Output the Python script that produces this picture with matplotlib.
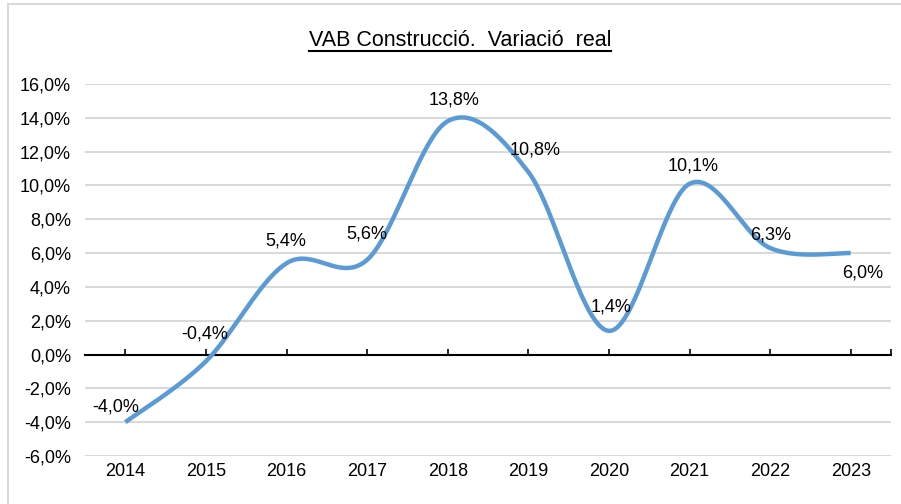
import numpy as np
import matplotlib
matplotlib.use("Agg")
from matplotlib import pyplot as plt
from matplotlib.lines import Line2D
from matplotlib.patches import Rectangle
from matplotlib.ticker import FuncFormatter

plt.rcParams['font.family'] = ['Liberation Sans', 'DejaVu Sans']

years = ['2014', '2015', '2016', '2017', '2018', '2019', '2020', '2021', '2022', '2023']
values = [-4.0, -0.4, 5.4, 5.6, 13.8, 10.8, 1.4, 10.1, 6.3, 6.0]
title = "VAB Construcció.  Variació  real"

# label offsets in pixels (dx, dy), as placed in the original
label_offsets = [(-10, 15), (-1, 27), (-1, 22), (0, 26), (6, 21),
                 (7, 22), (2, 24), (4, 18), (1, 13), (12, -20)]

line_color = '#5b9bd5'
grid_color = '#d9d9d9'


def smooth_curve(x, y, n=40):
    # Bezier smoothing like a spreadsheet "smoothed line"
    pts = np.column_stack([x, y]).astype(float)
    t = np.linspace(0, 1, n)[:, None]
    segs = []
    for i in range(len(pts) - 1):
        p0 = pts[i - 1] if i > 0 else pts[i]
        p1, p2 = pts[i], pts[i + 1]
        p3 = pts[i + 2] if i + 2 < len(pts) else pts[i + 1]
        c1 = p1 + (p2 - p0) / 6
        c2 = p2 - (p3 - p1) / 6
        seg = (1 - t)**3 * p1 + 3 * (1 - t)**2 * t * c1 + 3 * (1 - t) * t**2 * c2 + t**3 * p2
        segs.append(seg if i == 0 else seg[1:])
    curve = np.vstack(segs)
    return curve[:, 0], curve[:, 1]


fig = plt.figure(figsize=(9.01, 5.04), dpi=100)
ax = fig.add_axes([85 / 901, 48 / 504, 806 / 901, 372 / 504])

xs = np.arange(len(values))
cx, cy = smooth_curve(xs, values)
ax.plot(cx, cy, color=line_color, lw=3.2, solid_capstyle='butt', zorder=3)

for i, v in enumerate(values):
    txt = f"{v:.1f}".replace('.', ',') + '%'
    ax.annotate(txt, (i, v), xytext=label_offsets[i], textcoords='offset pixels',
                ha='center', va='center', fontsize=13, color='black', zorder=4)

ax.set_xlim(-0.5, len(values) - 0.5)
ax.set_ylim(-6, 16)
ax.set_yticks(np.arange(-6, 17, 2))
ax.yaxis.set_major_formatter(FuncFormatter(lambda v, p: f"{v:.1f}".replace('.', ',') + '%'))
ax.tick_params(axis='y', length=0, pad=10, labelsize=13)
ax.grid(axis='y', color=grid_color, lw=1.5)
ax.set_axisbelow(True)

for s in ['left', 'right', 'top']:
    ax.spines[s].set_visible(False)
ax.spines['bottom'].set_position(('data', 0))
ax.spines['bottom'].set_color('black')
ax.spines['bottom'].set_linewidth(1.5)
ax.spines['bottom'].set_zorder(2)
ax.set_xticks(list(xs) + [len(values) - 0.5])
ax.tick_params(axis='x', direction='in', length=4, width=1.2, labelbottom=False)

sec = ax.secondary_xaxis('bottom')
sec.set_xticks(xs)
sec.set_xticklabels(years)
sec.tick_params(axis='x', length=0, pad=5, labelsize=13)
sec.spines['bottom'].set_visible(False)

t = fig.text(460 / 901, 1 - 46 / 504, title, ha='center', va='baseline', fontsize=15.5)
fig.canvas.draw()
bb = t.get_window_extent()
fig.add_artist(Line2D([bb.x0 / 901, bb.x1 / 901], [1 - 51 / 504] * 2,
                      transform=fig.transFigure, color='black', lw=1.5))

fig.add_artist(Rectangle((8 / 901, -0.1), 1.2, 1 - 4 / 504 + 0.1, transform=fig.transFigure,
                         fill=False, ec=grid_color, lw=1.5))

fig.savefig('out.png', dpi=100)
